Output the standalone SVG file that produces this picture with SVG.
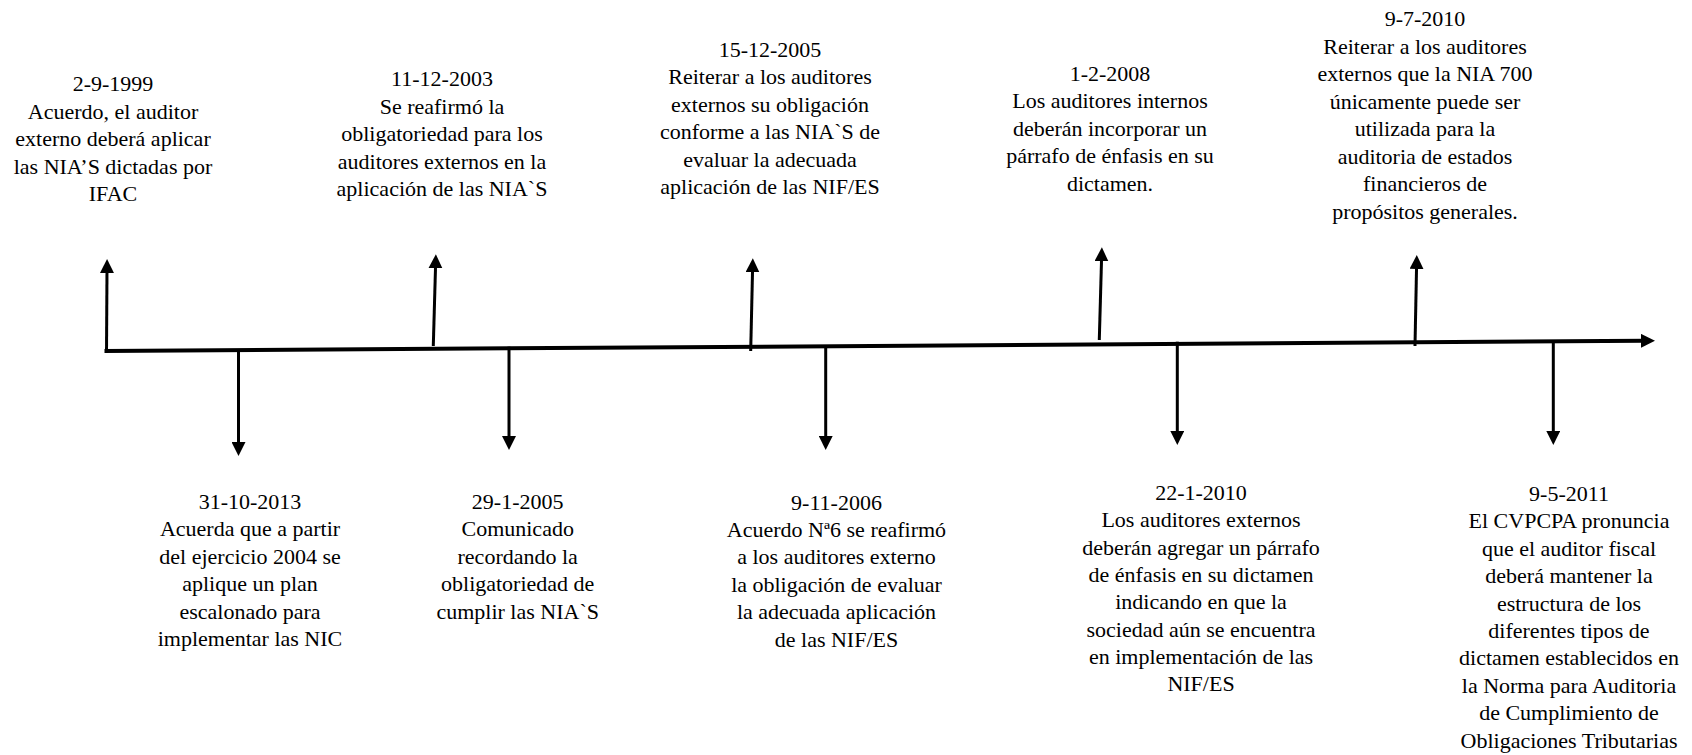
<svg xmlns="http://www.w3.org/2000/svg" width="1692" height="755" viewBox="0 0 1692 755">
<style>
.t{font-family:'Liberation Serif','Times New Roman','DejaVu Serif',serif;font-size:22px;fill:#000;text-anchor:middle}
.ln{stroke:#000;stroke-width:3;fill:none;marker-end:url(#ah)}
.tl{stroke:#000;stroke-width:4;fill:none;marker-end:url(#ah)}
</style>
<defs>
<marker id="ah" markerWidth="14" markerHeight="14" refX="4" refY="7" orient="auto" markerUnits="userSpaceOnUse"><path d="M0,0 L14,7 L0,14 z" fill="#000"/></marker>
</defs>
<rect width="1692" height="755" fill="#fff"/>
<g id="connectors">
<line class="tl" x1="104.5" y1="351" x2="1645" y2="340.8"/>
<line class="ln" x1="106.5" y1="352.5" x2="107" y2="269"/>
<line class="ln" x1="433.3" y1="346" x2="435.6" y2="264.3"/>
<line class="ln" x1="750.7" y1="351" x2="752.6" y2="268.3"/>
<line class="ln" x1="1099.3" y1="340" x2="1101.6" y2="257.3"/>
<line class="ln" x1="1415" y1="346" x2="1416.6" y2="265"/>
<line class="ln" x1="238.5" y1="351" x2="238.5" y2="446"/>
<line class="ln" x1="509" y1="346.7" x2="509" y2="440"/>
<line class="ln" x1="825.7" y1="346.7" x2="825.7" y2="440"/>
<line class="ln" x1="1177.3" y1="341.7" x2="1177.3" y2="435"/>
<line class="ln" x1="1553.3" y1="341" x2="1553.3" y2="435"/>
</g>
<g font-family="Liberation Serif, serif" font-size="22" text-anchor="middle">
<g id="n1999"><text class="t" x="113" y="91"><tspan x="113">2-9-1999</tspan><tspan x="113" dy="27.5">Acuerdo, el auditor</tspan><tspan x="113" dy="27.5">externo deberá aplicar</tspan><tspan x="113" dy="27.5">las NIA’S dictadas por</tspan><tspan x="113" dy="27.5">IFAC</tspan></text></g>
<g id="n2003"><text class="t" x="442" y="86"><tspan x="442">11-12-2003</tspan><tspan x="442" dy="27.5">Se reafirmó la</tspan><tspan x="442" dy="27.5">obligatoriedad para los</tspan><tspan x="442" dy="27.5">auditores externos en la</tspan><tspan x="442" dy="27.5">aplicación de las NIA`S</tspan></text></g>
<g id="n2005a"><text class="t" x="770" y="56.7"><tspan x="770">15-12-2005</tspan><tspan x="770" dy="27.5">Reiterar a los auditores</tspan><tspan x="770" dy="27.5">externos su obligación</tspan><tspan x="770" dy="27.5">conforme a las NIA`S de</tspan><tspan x="770" dy="27.5">evaluar la adecuada</tspan><tspan x="770" dy="27.5">aplicación de las NIF/ES</tspan></text></g>
<g id="n2008"><text class="t" x="1110" y="80.7"><tspan x="1110">1-2-2008</tspan><tspan x="1110" dy="27.5">Los auditores internos</tspan><tspan x="1110" dy="27.5">deberán incorporar un</tspan><tspan x="1110" dy="27.5">párrafo de énfasis en su</tspan><tspan x="1110" dy="27.5">dictamen.</tspan></text></g>
<g id="n2010a"><text class="t" x="1425" y="26"><tspan x="1425">9-7-2010</tspan><tspan x="1425" dy="27.5">Reiterar a los auditores</tspan><tspan x="1425" dy="27.5">externos que la NIA 700</tspan><tspan x="1425" dy="27.5">únicamente puede ser</tspan><tspan x="1425" dy="27.5">utilizada para la</tspan><tspan x="1425" dy="27.5">auditoria de estados</tspan><tspan x="1425" dy="27.5">financieros de</tspan><tspan x="1425" dy="27.5">propósitos generales.</tspan></text></g>
<g id="n2013"><text class="t" x="250" y="509"><tspan x="250">31-10-2013</tspan><tspan x="250" dy="27.4">Acuerda que a partir</tspan><tspan x="250" dy="27.4">del ejercicio 2004 se</tspan><tspan x="250" dy="27.4">aplique un plan</tspan><tspan x="250" dy="27.4">escalonado para</tspan><tspan x="250" dy="27.4">implementar las NIC</tspan></text></g>
<g id="n2005b"><text class="t" x="517.7" y="509"><tspan x="517.7">29-1-2005</tspan><tspan x="517.7" dy="27.4">Comunicado</tspan><tspan x="517.7" dy="27.4">recordando la</tspan><tspan x="517.7" dy="27.4">obligatoriedad de</tspan><tspan x="517.7" dy="27.4">cumplir las NIA`S</tspan></text></g>
<g id="n2006"><text class="t" x="836.5" y="509.5"><tspan x="836.5">9-11-2006</tspan><tspan x="836.5" dy="27.4">Acuerdo Nª6 se reafirmó</tspan><tspan x="836.5" dy="27.4">a los auditores externo</tspan><tspan x="836.5" dy="27.4">la obligación de evaluar</tspan><tspan x="836.5" dy="27.4">la adecuada aplicación</tspan><tspan x="836.5" dy="27.4">de las NIF/ES</tspan></text></g>
<g id="n2010b"><text class="t" x="1201" y="500"><tspan x="1201">22-1-2010</tspan><tspan x="1201" dy="27.3">Los auditores externos</tspan><tspan x="1201" dy="27.3">deberán agregar un párrafo</tspan><tspan x="1201" dy="27.3">de énfasis en su dictamen</tspan><tspan x="1201" dy="27.3">indicando en que la</tspan><tspan x="1201" dy="27.3">sociedad aún se encuentra</tspan><tspan x="1201" dy="27.3">en implementación de las</tspan><tspan x="1201" dy="27.3">NIF/ES</tspan></text></g>
<g id="n2011"><text class="t" x="1569" y="501"><tspan x="1569">9-5-2011</tspan><tspan x="1569" dy="27.4">El CVPCPA pronuncia</tspan><tspan x="1569" dy="27.4">que el auditor fiscal</tspan><tspan x="1569" dy="27.4">deberá mantener la</tspan><tspan x="1569" dy="27.4">estructura de los</tspan><tspan x="1569" dy="27.4">diferentes tipos de</tspan><tspan x="1569" dy="27.4">dictamen establecidos en</tspan><tspan x="1569" dy="27.4">la Norma para Auditoria</tspan><tspan x="1569" dy="27.4">de Cumplimiento de</tspan><tspan x="1569" dy="27.4">Obligaciones Tributarias</tspan></text></g>
</g>
</svg>
